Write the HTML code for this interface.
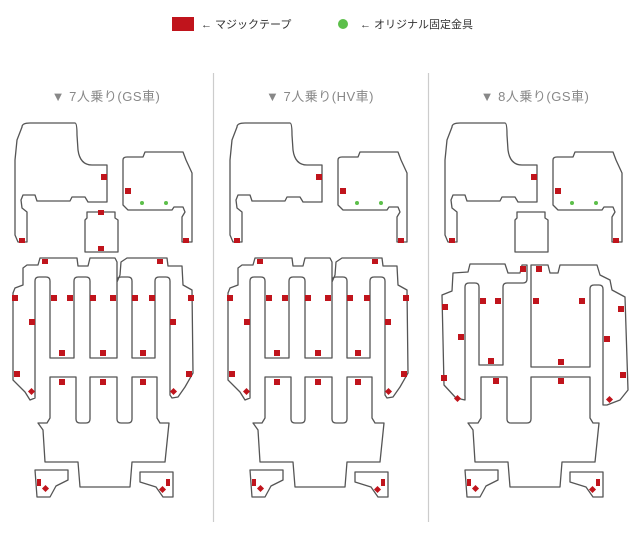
<!DOCTYPE html>
<html><head><meta charset="utf-8"><style>
html,body{margin:0;padding:0;background:#fff;}
svg{display:block;}
text{font-family:"Liberation Sans","Noto Sans CJK JP",sans-serif;}
</style></head><body>
<svg width="640" height="548" viewBox="0 0 640 548" xmlns="http://www.w3.org/2000/svg">
<defs>
<g id="top" fill="none" stroke="#555" stroke-width="1.3" stroke-linejoin="round">
  <path d="M22,127 Q22,123 30,123 L75,123 Q77,123 77,135 L78,150 Q80,165 92,165 L107,165 L107,202 L88,202 L85,197 L72,197 L70,201 L37,201 L35,195 L23,195 L21,200 L22,208 L27,212 L27,242 L18,242 L15,235 L15,160 L17,140 Z"/>
  <path d="M123,160 Q123,157 127,157 L143,157 L145,152 L183,152 L186,160 L192,173 L192,242 L182,242 L182,217 L185,212 L183,207 L174,207 L172,210 L128,210 L123,205 Z"/>
</g>
<g id="reds1" fill="#c0141c">
  <rect x="101" y="174" width="6" height="6"/>
  <rect x="19" y="238" width="6" height="5"/>
  <rect x="125" y="188" width="6" height="6"/>
  <rect x="183" y="238" width="6" height="5"/>
</g>
<g id="greens" fill="#5cbf4a">
  <circle cx="142" cy="203" r="2"/><circle cx="166" cy="203" r="2"/>
</g>
<g id="center" fill="none" stroke="#555" stroke-width="1.3" stroke-linejoin="round">
  <path d="M87,212 L115,212 L115,218 L118,220 L118,252 L85,252 L85,220 L87,218 Z"/>
</g>
<g id="mid1" fill="none" stroke="#555" stroke-width="1.3" stroke-linejoin="round">
  <path d="M13,293 L15,288 L23,285 L23,268 L27,265 L38,265 L40,258 L77,258 L78,266 L88,266 L90,258 L115,258 L117,262 L117,282 L120,275 L121,262 L127,258 L167,258 L168,266 L182,266 L183,285 L192,290 L193,373 L185,387 L178,397 L172,398 L170,395 L170,281 Q170,277 166,277 L159,277 Q155,277 155,281 L155,358 L132,358 L132,281 Q132,277 128,277 L121,277 Q117,277 117,281 L117,358 L90,358 L90,281 Q90,277 86,277 L78,277 Q74,277 74,281 L74,358 L50,358 L50,281 Q50,277 46,277 L39,277 Q35,277 35,281 L35,398 L30,400 L25,392 L13,380 Z"/>
  <path d="M50,377 L76,377 L76,419 Q76,423 80,423 L86,423 Q90,423 90,419 L90,377 L117,377 L117,419 Q117,423 121,423 L128,423 Q132,423 132,419 L132,377 L157,377 L157,418 L160,423 L169,423 L165,462 L132,462 L130,487 L80,487 L78,462 L45,462 L43,430 L38,423 L47,423 L50,418 Z"/>
</g>
<g id="mid1r" fill="#c0141c">
  <rect x="42" y="259" width="6" height="5"/><rect x="157" y="259" width="6" height="5"/>
  <rect x="12" y="295" width="6" height="6"/><rect x="51" y="295" width="6" height="6"/>
  <rect x="67" y="295" width="6" height="6"/><rect x="90" y="295" width="6" height="6"/>
  <rect x="110" y="295" width="6" height="6"/><rect x="132" y="295" width="6" height="6"/>
  <rect x="149" y="295" width="6" height="6"/><rect x="188" y="295" width="6" height="6"/>
  <rect x="29" y="319" width="6" height="6"/><rect x="170" y="319" width="6" height="6"/>
  <rect x="59" y="350" width="6" height="6"/><rect x="100" y="350" width="6" height="6"/>
  <rect x="140" y="350" width="6" height="6"/>
  <rect x="14" y="371" width="6" height="6"/><rect x="186" y="371" width="6" height="6"/>
  <rect x="59" y="379" width="6" height="6"/><rect x="100" y="379" width="6" height="6"/>
  <rect x="140" y="379" width="6" height="6"/>
  <rect x="29" y="389" width="5" height="5" transform="rotate(45 31.5 391.5)"/>
  <rect x="171" y="389" width="5" height="5" transform="rotate(45 173.5 391.5)"/>
</g>
<g id="bot" fill="none" stroke="#555" stroke-width="1.3" stroke-linejoin="round">
  <path d="M35,470 L68,470 L68,480 L56,486 L50,497 L37,497 Z"/>
  <path d="M140,472 L173,472 L173,497 L163,497 L156,487 L140,482 Z"/>
</g>
<g id="botr" fill="#c0141c">
  <rect x="37" y="479" width="4" height="7"/>
  <rect x="43" y="486" width="5" height="5" transform="rotate(45 45.5 488.5)"/>
  <rect x="166" y="479" width="4" height="7"/>
  <rect x="160" y="487" width="5" height="5" transform="rotate(45 162.5 489.5)"/>
</g>
</defs>

<!-- legend -->
<rect x="172" y="17" width="22" height="14" fill="#c0141c"/>
<text x="201" y="28" font-size="11" fill="#333">← マジックテープ</text>
<circle cx="343" cy="24" r="5" fill="#5cbf4a"/>
<text x="360" y="28" font-size="11" fill="#333">← オリジナル固定金具</text>

<!-- dividers -->
<line x1="213.5" y1="73" x2="213.5" y2="522" stroke="#ccc" stroke-width="1.2"/>
<line x1="428.5" y1="73" x2="428.5" y2="522" stroke="#ccc" stroke-width="1.2"/>

<!-- headers -->
<text x="106" y="101" font-size="13" fill="#888" text-anchor="middle" letter-spacing="0.5">▼ 7人乗り(GS車)</text>
<text x="320" y="101" font-size="13" fill="#888" text-anchor="middle" letter-spacing="0.5">▼ 7人乗り(HV車)</text>
<text x="535" y="101" font-size="13" fill="#888" text-anchor="middle" letter-spacing="0.5">▼ 8人乗り(GS車)</text>

<!-- panel 1 -->
<use href="#top"/><use href="#reds1"/><use href="#greens"/>
<use href="#center"/>
<rect x="98" y="210" width="6" height="5" fill="#c0141c"/>
<rect x="98" y="246" width="6" height="5" fill="#c0141c"/>
<use href="#mid1"/><use href="#mid1r"/>
<use href="#bot"/><use href="#botr"/>

<!-- panel 2 -->
<g transform="translate(215,0)">
<use href="#top"/><use href="#reds1"/><use href="#greens"/>
<use href="#mid1"/><use href="#mid1r"/>
<use href="#bot"/><use href="#botr"/>
</g>

<!-- panel 3 -->
<g transform="translate(430,0)">
<use href="#top"/><use href="#reds1"/><use href="#greens"/>
<use href="#center"/>
<use href="#bot"/><use href="#botr"/>
</g>
<g fill="none" stroke="#555" stroke-width="1.3" stroke-linejoin="round">
  <path d="M442,295 L452,291 L453,273 L468,272 L470,264 L505,264 L508,273 L520,273 L522,265 L527,265 L527,279 Q527,283 523,283 L507,283 Q503,283 503,287 L503,365 L479,365 L479,287 Q479,283 475,283 L469,283 Q465,283 465,287 L465,400 L456,398 L444,385 Z"/>
  <path d="M531,367 L531,265 L548,265 L550,273 L558,273 L560,265 L597,265 L600,275 L610,280 L612,290 L625,297 L628,390 L620,400 L607,405 L603,405 L603,289 Q603,285 599,285 L594,285 Q590,285 590,289 L590,367 Z"/>
  <path d="M481,377 L507,377 L507,419 Q507,423 511,423 L527,423 Q531,423 531,419 L531,377 L590,377 L590,418 L593,423 L599,423 L595,462 L562,462 L560,487 L510,487 L508,462 L475,462 L473,430 L468,423 L478,423 L481,418 Z"/>
</g>
<g fill="#c0141c">
  <rect x="442" y="304" width="6" height="6"/><rect x="458" y="334" width="6" height="6"/>
  <rect x="441" y="375" width="6" height="6"/>
  <rect x="455" y="396" width="5" height="5" transform="rotate(45 457.5 398.5)"/>
  <rect x="480" y="298" width="6" height="6"/><rect x="495" y="298" width="6" height="6"/>
  <rect x="488" y="358" width="6" height="6"/><rect x="493" y="378" width="6" height="6"/>
  <rect x="520" y="266" width="6" height="6"/><rect x="536" y="266" width="6" height="6"/>
  <rect x="533" y="298" width="6" height="6"/><rect x="579" y="298" width="6" height="6"/>
  <rect x="558" y="359" width="6" height="6"/><rect x="558" y="378" width="6" height="6"/>
  <rect x="618" y="306" width="6" height="6"/><rect x="604" y="336" width="6" height="6"/>
  <rect x="620" y="372" width="6" height="6"/>
  <rect x="607" y="397" width="5" height="5" transform="rotate(45 609.5 399.5)"/>
</g>
</svg>
</body></html>
